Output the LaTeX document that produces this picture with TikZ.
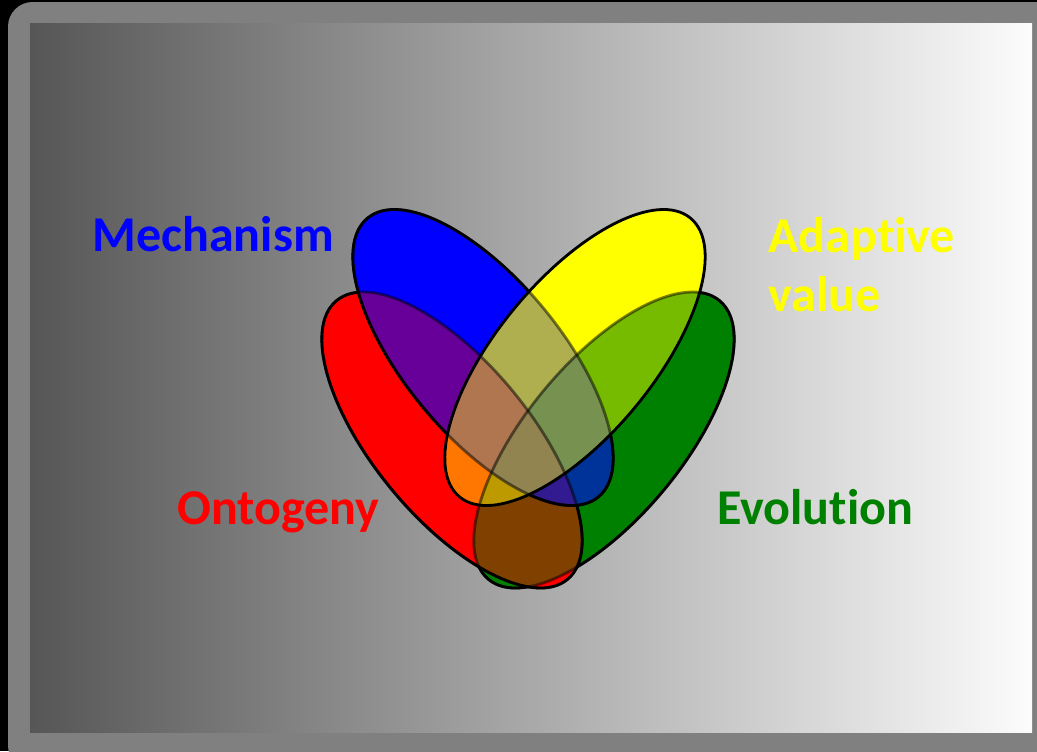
\documentclass[tikz,border=0pt]{standalone}
\usepackage{fontspec}
\setmainfont{Carlito}[Ligatures=NoCommon]
\definecolor{cR}{RGB}{255,0,0}
\definecolor{cB}{RGB}{0,0,255}
\definecolor{cY}{RGB}{255,255,0}
\definecolor{cG}{RGB}{0,128,0}
\definecolor{cRB}{RGB}{102,0,153}
\definecolor{cRY}{RGB}{255,119,0}
\definecolor{cRG}{RGB}{128,64,0}
\definecolor{cBY}{RGB}{175,175,80}
\definecolor{cBG}{RGB}{0,51,153}
\definecolor{cYG}{RGB}{119,187,0}
\definecolor{cRBY}{RGB}{175,118,80}
\definecolor{cRBG}{RGB}{50,26,145}
\definecolor{cRYG}{RGB}{188,154,0}
\definecolor{cBYG}{RGB}{119,146,80}
\definecolor{cRBYG}{RGB}{145,132,80}
\definecolor{frame}{RGB}{128,128,128}
\definecolor{gleft}{RGB}{86,86,86}
\definecolor{gright}{RGB}{252,252,252}
\tikzset{
  rotG/.style={rotate around={50.35:(604,-440)}},
  rotR/.style={rotate around={-50.35:(452,-440)}},
  rotB/.style={rotate around={-50.35:(483,-357.5)}},
  rotY/.style={rotate around={50.35:(575,-357.5)}},
  ol/.style={draw=black, line width=1.6pt},
  lbl/.style={font=\fontsize{28.5}{34}\selectfont\bfseries, inner sep=0pt},
}
\newcommand\pG{(604,-440) ellipse [x radius=181, y radius=78]}
\newcommand\pR{(452,-440) ellipse [x radius=181, y radius=78]}
\newcommand\pB{(483,-357.5) ellipse [x radius=181, y radius=78]}
\newcommand\pY{(575,-357.5) ellipse [x radius=181, y radius=78]}
\newcommand\inG{\clip[rotG] \pG;}
\newcommand\inR{\clip[rotR] \pR;}
\newcommand\inB{\clip[rotB] \pB;}
\newcommand\inY{\clip[rotY] \pY;}
\newcommand\outG{\clip[rotG] (-3000,-3000) rectangle (4000,3000) \pG;}
\newcommand\outR{\clip[rotR] (-3000,-3000) rectangle (4000,3000) \pR;}
\newcommand\outB{\clip[rotB] (-3000,-3000) rectangle (4000,3000) \pB;}
\newcommand\outY{\clip[rotY] (-3000,-3000) rectangle (4000,3000) \pY;}
\newcommand\allfill[1]{\fill[#1] (0,0) rectangle (1037,-751);}
\begin{document}
\begin{tikzpicture}[x=0.02cm,y=0.02cm]
\useasboundingbox (0,0) rectangle (1037,-751);
\fill[black] (0,0) rectangle (1037,-751);
\fill[frame, rounded corners=14] (8,-2) rectangle (1070,-770);
\shade[left color=gleft, right color=gright] (30,-23) rectangle (1032,-732);
% single sets
\fill[cG, rotG] \pG;
\fill[cR, rotR] \pR;
\fill[cB, rotB] \pB;
\fill[cY, rotY] \pY;
% pairs
\begin{scope}\inR\inB\allfill{cRB}\end{scope}
\begin{scope}\inR\inY\allfill{cRY}\end{scope}
\begin{scope}\inR\inG\allfill{cRG}\end{scope}
\begin{scope}\inB\inY\allfill{cBY}\end{scope}
\begin{scope}\inB\inG\allfill{cBG}\end{scope}
\begin{scope}\inY\inG\allfill{cYG}\end{scope}
% triples
\begin{scope}\inR\inB\inY\allfill{cRBY}\end{scope}
\begin{scope}\inR\inB\inG\allfill{cRBG}\end{scope}
\begin{scope}\inR\inY\inG\allfill{cRYG}\end{scope}
\begin{scope}\inB\inY\inG\allfill{cBYG}\end{scope}
% all four
\begin{scope}\inR\inB\inY\inG\allfill{cRBYG}\end{scope}
% outlines (order G, R, B, Y; lower ones dimmed under upper ones)
\draw[ol, draw opacity=0.5, rotG] \pG;
\begin{scope}[even odd rule]\outR\outB\outY\draw[ol, rotG] \pG;\end{scope}
\draw[ol, draw opacity=0.5, rotR] \pR;
\begin{scope}[even odd rule]\outB\outY\draw[ol, rotR] \pR;\end{scope}
\draw[ol, draw opacity=0.5, rotB] \pB;
\begin{scope}[even odd rule]\outY\draw[ol, rotB] \pB;\end{scope}
\draw[ol, rotY] \pY;
% labels
\node[lbl, text=cB, anchor=base west] (mech) at (92,-251) {Mechanism};
\node[lbl, text=cY, anchor=base west] (adap) at (768,-252) {Adaptive};
\node[lbl, text=cY, anchor=base west] (val) at (768,-311) {value};
\node[lbl, text=cR, anchor=base west] (onto) at (177,-524) {Ontogeny};
\node[lbl, text=cG, anchor=base west] (evo) at (717,-524) {Evolution};
\end{tikzpicture}
\end{document}
